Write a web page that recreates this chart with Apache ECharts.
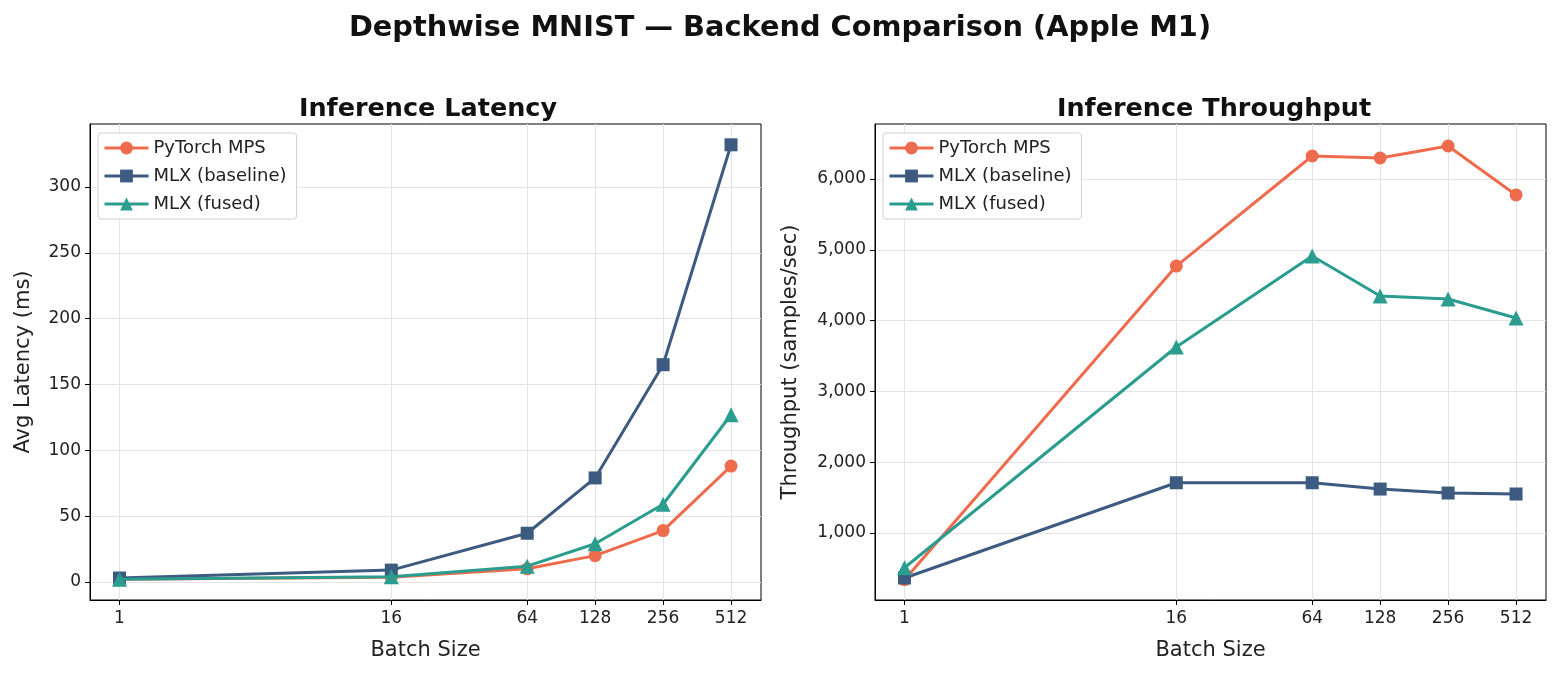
<!DOCTYPE html>
<html>
<head>
<meta charset="utf-8">
<script src="https://cdn.jsdelivr.net/npm/echarts@6/dist/echarts.min.js"></script>
<style>
  html, body { margin: 0; padding: 0; background: #fff; }
  #chart { width: 1560px; height: 674px; }
</style>
</head>
<body>
<div id="chart"></div>
<script>
// batch sizes (log2 x axis)
const batches = [1, 16, 64, 128, 256, 512];

// avg latency, ms
const latencyPytorch = [2, 3.5, 10, 20, 39, 88];
const latencyBaseline = [3, 9, 37, 79, 165, 332];
const latencyFused = [2, 4, 12, 29, 59, 127];

// throughput, samples/sec
const throughputPytorch = [340, 4770, 6325, 6297, 6466, 5775];
const throughputBaseline = [365, 1710, 1710, 1621, 1565, 1551];
const throughputFused = [510, 3627, 4912, 4347, 4305, 4037];

const latencyTicks = [0, 50, 100, 150, 200, 250, 300];
const throughputTicks = [1000, 2000, 3000, 4000, 5000, 6000];

const names = ['PyTorch MPS', 'MLX (baseline)', 'MLX (fused)'];
const colors = ['#EE6C4D', '#3D5A80', '#2A9D8F'];
const symbols = ['circle', 'rect', 'triangle'];
const FONT = 'DejaVu Sans';

const chart = echarts.init(document.getElementById('chart'));

const pairs = vals => batches.map((b, i) => [b, vals[i]]);

function xAxisFor(idx) {
  return {
    gridIndex: idx,
    type: 'log',
    logBase: 2,
    min: 0.74,
    max: 695,
    name: 'Batch Size',
    nameLocation: 'middle',
    nameGap: 40,
    nameTextStyle: { fontSize: 21, color: '#222', fontFamily: FONT },
    axisLine: { show: true, onZero: false, lineStyle: { color: '#000', width: 1 } },
    axisTick: { show: true, length: 5, lineStyle: { color: '#000' }, customValues: batches },
    axisLabel: { fontSize: 17, color: '#222', fontFamily: FONT, margin: 10, customValues: batches },
    splitLine: { show: true, lineStyle: { color: '#e3e3e3', width: 1 } },
    minorTick: { show: false },
    minorSplitLine: { show: false }
  };
}

function seriesFor(idx, data) {
  return data.map((vals, k) => ({
    name: names[k],
    type: 'line',
    xAxisIndex: idx,
    yAxisIndex: idx,
    data: pairs(vals),
    symbol: symbols[k],
    symbolSize: k === 2 ? 15 : 13,
    showAllSymbol: true,
    lineStyle: { color: colors[k], width: 3 },
    itemStyle: { color: colors[k] },
    z: 3 + k
  }));
}

const legendBase = {
  orient: 'vertical',
  itemWidth: 44,
  itemHeight: 16,
  itemGap: 10,
  itemTextGap: 10,
  padding: [6, 10, 6, 5],
  backgroundColor: '#fff',
  borderColor: '#d0d0d0',
  borderWidth: 1,
  borderRadius: 3,
  lineStyle: { width: 3 },
  textStyle: { fontSize: 18, color: '#222', fontFamily: FONT }
};

const option = {
  animation: false,
  textStyle: { fontFamily: FONT },
  title: [
    { text: 'Depthwise MNIST — Backend Comparison (Apple M1)', left: 'center', top: 9,
      textStyle: { fontSize: 28.8, fontWeight: 'bold', color: '#111', fontFamily: FONT } },
    { text: 'Inference Latency', left: 423, textAlign: 'center', top: 91,
      textStyle: { fontSize: 25.5, fontWeight: 'bold', color: '#111', fontFamily: FONT } },
    { text: 'Inference Throughput', left: 1209, textAlign: 'center', top: 91,
      textStyle: { fontSize: 25.5, fontWeight: 'bold', color: '#111', fontFamily: FONT } }
  ],
  legend: [
    Object.assign({}, legendBase, { left: 98, top: 133, data: names }),
    Object.assign({}, legendBase, { left: 883, top: 133, data: names })
  ],
  grid: [
    { left: 90, width: 671, top: 124, height: 476, show: true, borderColor: '#000', borderWidth: 1, backgroundColor: 'transparent' },
    { left: 875, width: 671, top: 124, height: 476, show: true, borderColor: '#000', borderWidth: 1, backgroundColor: 'transparent' }
  ],
  xAxis: [xAxisFor(0), xAxisFor(1)],
  yAxis: [
    {
      gridIndex: 0,
      type: 'value',
      min: -13.7,
      max: 347.8,
      name: 'Avg Latency (ms)',
      nameLocation: 'middle',
      nameGap: 56,
      nameTextStyle: { fontSize: 21, color: '#222', fontFamily: FONT },
      axisLine: { show: true, onZero: false, lineStyle: { color: '#000' } },
      axisTick: { show: true, length: 5, lineStyle: { color: '#000' }, customValues: latencyTicks },
      axisLabel: { fontSize: 17, color: '#222', fontFamily: FONT, margin: 9, customValues: latencyTicks },
      splitLine: { show: true, lineStyle: { color: '#e3e3e3' } }
    },
    {
      gridIndex: 1,
      type: 'value',
      min: 54,
      max: 6777,
      name: 'Throughput (samples/sec)',
      nameLocation: 'middle',
      nameGap: 74,
      nameTextStyle: { fontSize: 21, color: '#222', fontFamily: FONT },
      axisLine: { show: true, onZero: false, lineStyle: { color: '#000' } },
      axisTick: { show: true, length: 5, lineStyle: { color: '#000' }, customValues: throughputTicks },
      axisLabel: {
        fontSize: 17, color: '#222', fontFamily: FONT, margin: 9, customValues: throughputTicks,
        formatter: v => v.toLocaleString('en-US')
      },
      splitLine: { show: true, lineStyle: { color: '#e3e3e3' } }
    }
  ],
  series: [
    ...seriesFor(0, [latencyPytorch, latencyBaseline, latencyFused]),
    ...seriesFor(1, [throughputPytorch, throughputBaseline, throughputFused])
  ]
};

chart.setOption(option);
</script>
</body>
</html>
